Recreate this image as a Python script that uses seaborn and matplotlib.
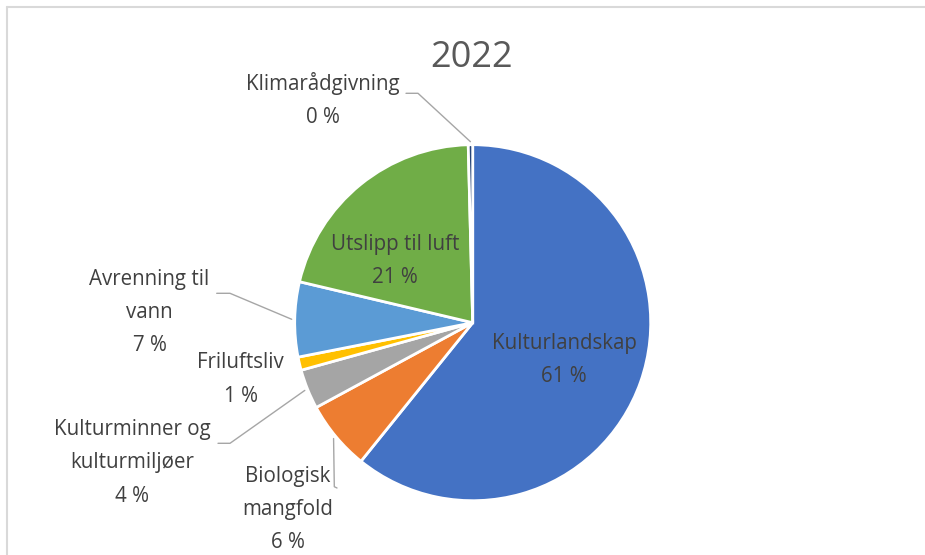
import matplotlib
matplotlib.use("Agg")
import numpy as np
import matplotlib.pyplot as plt
import seaborn as sns
from matplotlib.lines import Line2D

# data (2022)
categories = ["Kulturlandskap", "Biologisk mangfold", "Kulturminner og kulturmiljøer",
              "Friluftsliv", "Avrenning til vann", "Utslipp til luft", "Klimarådgivning"]
label_text = ["Kulturlandskap", "Biologisk\nmangfold", "Kulturminner og\nkulturmiljøer",
              "Friluftsliv", "Avrenning til\nvann", "Utslipp til luft", "Klimarådgivning"]
shares = [60.8, 6.3, 3.6, 1.2, 6.8, 20.9, 0.4]
title = "2022"

colors = sns.color_palette(["#4472C4", "#ED7D31", "#A5A5A5", "#FFC000",
                            "#5B9BD5", "#70AD47", "#264478"])

sns.set_theme(style="white")
plt.rcParams["font.family"] = ["Open Sans", "DejaVu Sans"]

W, H = 925, 555
CX, CY, R = 472.7, 322.7, 178.0   # pie centre / radius in pixels


def to_data(px, py):
    return (px - CX) / R, (CY - py) / R


fig = plt.figure(figsize=(W / 100, H / 100), dpi=100)
ax = fig.add_axes([0, 0, 1, 1])
wedges, _ = ax.pie(shares, colors=colors, startangle=90, counterclock=False,
                   radius=1.0, wedgeprops=dict(edgecolor="white", linewidth=2))
ax.set_aspect("auto")
ax.set_xlim(-CX / R, (W - CX) / R)
ax.set_ylim(-(H - CY) / R, CY / R)
ax.axis("off")

txt_col = "#404040"
line_col = "#A6A6A6"

# label placement: (x centre px, last-line baseline px, leader points in px or None)
placement = {
    "Kulturlandskap": (564, 382, None),
    "Utslipp til luft": (395, 283, None),
    "Klimarådgivning": (323, 123, [(406, 93.3), (418, 93.3)]),
    "Avrenning til vann": (149.5, 351, [(216.7, 293.3), (230, 293.3)]),
    "Friluftsliv": (240.5, 401.5, None),
    "Kulturminner og kulturmiljøer": (132, 501.5, [(218, 443.3), (230, 443.3)]),
    "Biologisk mangfold": (288, 548, [(337, 488), (334.3, 486.7)]),
}

for cat, lab, val, w in zip(categories, label_text, shares, wedges):
    x, y, leader = placement[cat]
    tx, ty = to_data(x, y)
    ax.text(tx, ty, f"{lab}\n{round(val):.0f} %", ha="center", va="baseline",
            multialignment="center", linespacing=1.76, fontsize=14.8, color=txt_col)
    if leader is not None:
        mid = np.deg2rad((w.theta1 + w.theta2) / 2)
        ex, ey = 1.017 * np.cos(mid), 1.017 * np.sin(mid)
        pts = [to_data(px, py) for px, py in leader] + [(ex, ey)]
        xs, ys = zip(*pts)
        ax.add_line(Line2D(xs, ys, color=line_col, linewidth=1.0))

ax.text(*to_data(472, 67.3), title, ha="center", va="baseline",
        fontsize=26, color="#595959")

# chart area frame (cropped: only top and left edges visible)
fig.add_artist(Line2D([7 / W, 7 / W], [0, 1 - 7 / H], transform=fig.transFigure,
                      color="#D9D9D9", linewidth=1.5))
fig.add_artist(Line2D([7 / W, 1], [1 - 7 / H, 1 - 7 / H], transform=fig.transFigure,
                      color="#D9D9D9", linewidth=1.5))

fig.savefig("out.png", dpi=100, facecolor="white")
